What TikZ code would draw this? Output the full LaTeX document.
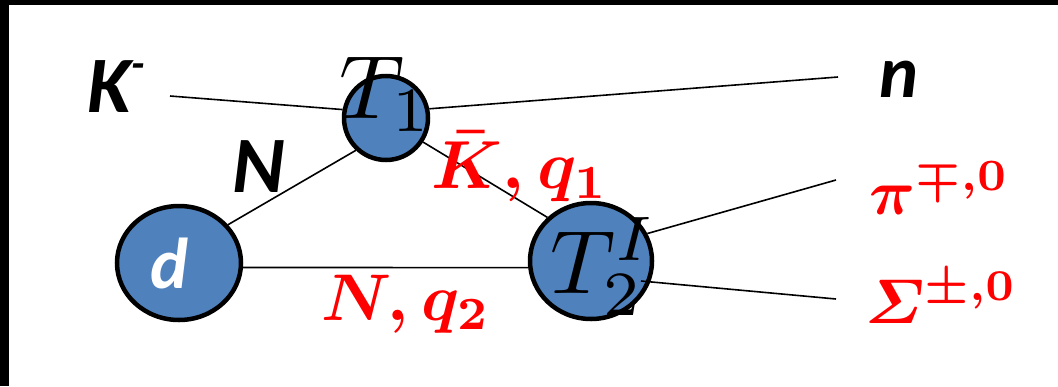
\documentclass[tikz,border=0pt]{standalone}
\usepackage{amsmath}
\usepackage{fontspec}
\newfontfamily\calfont{Carlito}
\definecolor{blue0}{RGB}{79,129,189}
\usetikzlibrary{shapes.geometric}
\tikzset{
  blob/.style={draw=black, line width=4.5pt, fill=blue0, ellipse, inner sep=0pt},
  leg/.style={draw=black, line width=1.6pt},
  lbl/.style={inner sep=0pt, anchor=base},
}
\begin{document}
\begin{tikzpicture}[x=1pt,y=-1pt]
\useasboundingbox (0,0) rectangle (1058,386);
\fill[black] (0,0) rectangle (1058,5);
\fill[black] (0,0) rectangle (9,386);
% blobs
\node[blob, minimum width=124pt, minimum height=114pt] (d) at (179,263) {};
\node[blob, minimum width=84pt, minimum height=84pt] (t1) at (386,118) {};
\node[blob, minimum width=122pt, minimum height=116pt] (t2) at (591,261) {};
% free ends
\coordinate (kend) at (170,96);
\coordinate (nend) at (838,77);
\coordinate (piend) at (836,180);
\coordinate (send) at (836,299);
\coordinate (sstart) at (641,281);
% connectors
\draw[leg] (kend) -- (t1.169);
\draw[leg] (t1.12) -- (nend);
\draw[leg] (d.38) -- (t1.227);
\draw[leg] (t1.-33) -- (t2.135);
\draw[leg] (d.-4) -- (t2.186);
\draw[leg] (t2.26) -- (piend);
\draw[leg] (sstart) -- (send);
% labels in blobs
\node[lbl, text=white] (dl) at (170,288) {\calfont\bfseries\itshape\fontsize{72}{72}\selectfont d};
\node[lbl, scale=9] (t1l) at (386,118) {$T_1$};
\node[lbl, scale=9] (t2l) at (604,293) {$T_2^I$};
% black labels
\node[lbl] (kl) at (116,112) {\calfont\bfseries\itshape\fontsize{80}{80}\selectfont K\raisebox{0.42em}{\fontsize{44}{44}\selectfont -}};
\node[lbl] (nl) at (899,97) {\calfont\bfseries\itshape\fontsize{74}{74}\selectfont n};
\node[lbl] (Nl) at (259,192) {\calfont\bfseries\itshape\fontsize{80}{80}\selectfont N};
% red labels
\node[lbl, text=red, scale=6.8] (kq) at (520,188) {$\boldsymbol{\bar{K}, q_1}$};
\node[lbl, text=red, scale=6.6] (nq) at (406,320) {$\boldsymbol{N, q_2}$};
\node[lbl, text=red, scale=6.4, anchor=base west] (pil) at (868,214) {$\boldsymbol{\pi^{\mp,0}}$};
\node[lbl, text=red, scale=6.3, anchor=base west] (sl) at (864,323) {$\boldsymbol{\varSigma^{\pm,0}}$};
\end{tikzpicture}
\end{document}
